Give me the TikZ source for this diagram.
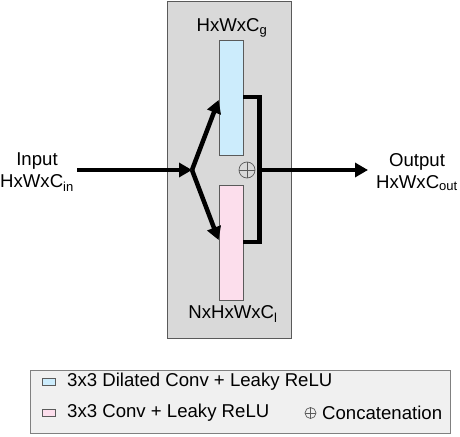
\documentclass[tikz,border=0pt]{standalone}
\usepackage{fontspec}
\setmainfont{Liberation Sans}
\usetikzlibrary{arrows.meta}
\definecolor{panelgray}{RGB}{217,217,217}
\definecolor{legendgray}{RGB}{240,240,240}
\definecolor{blockblue}{RGB}{204,236,252}
\definecolor{blockpink}{RGB}{252,222,236}
\definecolor{edgegray}{RGB}{90,90,90}
\tikzset{
  lbl/.style={font=\fontsize{18.6}{22}\selectfont, inner sep=0pt, align=center},
  block/.style={draw=edgegray, line width=0.8pt},
  flow/.style={line width=4.5pt, -{Triangle[length=13pt,width=14pt]}},
  link/.style={line width=4.5pt, line join=miter},
  swatch/.style={draw=edgegray, line width=0.8pt, minimum width=13pt, minimum height=7pt, inner sep=0pt},
  oplusmark/.style={circle, draw=edgegray, line width=0.7pt, minimum size=#1, inner sep=0pt,
    path picture={\draw[edgegray, line width=0.7pt]
      (path picture bounding box.north) -- (path picture bounding box.south)
      (path picture bounding box.west) -- (path picture bounding box.east);}}
}
\begin{document}
\begin{tikzpicture}[x=1pt,y=-1pt]
\useasboundingbox (0,0) rectangle (460,436);
% panel
\node[draw=edgegray, fill=panelgray, line width=0.8pt, minimum width=124pt, minimum height=337pt, inner sep=0pt] (panel) at (229,169.5) {};
% blocks
\node[block, fill=blockblue, minimum width=24pt, minimum height=115pt, inner sep=0pt] (blue) at (231,97.5) {};
\node[block, fill=blockpink, minimum width=24pt, minimum height=115pt, inner sep=0pt] (pink) at (231,242.5) {};
\node[lbl] (gl) at (232,28) {HxWxC\textsubscript{g}};
\node[lbl] (ll) at (233,314) {NxHxWxC\textsubscript{l}};
% input / output
\node[lbl] (in) at (37,172) {Input\\HxWxC\textsubscript{in}};
\node[lbl] (out) at (417,172) {Output\\HxWxC\textsubscript{out}};
\coordinate (instart) at (77,170);
\coordinate (split) at (192,170);
\coordinate (merge) at (259.5,170);
\coordinate (arrowend) at (368,170);
\draw[flow] (instart) -- (split);
\draw[flow] (split) -- (blue.west |- 0,100);
\draw[flow] (split) -- (pink.west |- 0,240);
\draw[link] (blue.east |- 0,97) -| (merge) |- (pink.east |- 0,242);
\draw[flow] (merge) -- (arrowend);
\node[oplusmark=16pt] (cat) at (247,170) {};
% legend
\node[draw=gray, fill=legendgray, line width=0.8pt, minimum width=420pt, minimum height=63pt, inner sep=0pt] (legend) at (240,401.5) {};
\node[swatch, fill=blockblue] (sw1) at (48.5,382) {};
\node[swatch, fill=blockpink] (sw2) at (48.5,413) {};
\node[lbl, anchor=west] (t1) at (67,382) {3x3 Dilated Conv + Leaky ReLU};
\node[lbl, anchor=west] (t2) at (67,413) {3x3 Conv + Leaky ReLU};
\node[oplusmark=11pt] (cs) at (310.5,413) {};
\node[lbl, anchor=west] (t3) at (322,413) {Concatenation};
\end{tikzpicture}
\end{document}
